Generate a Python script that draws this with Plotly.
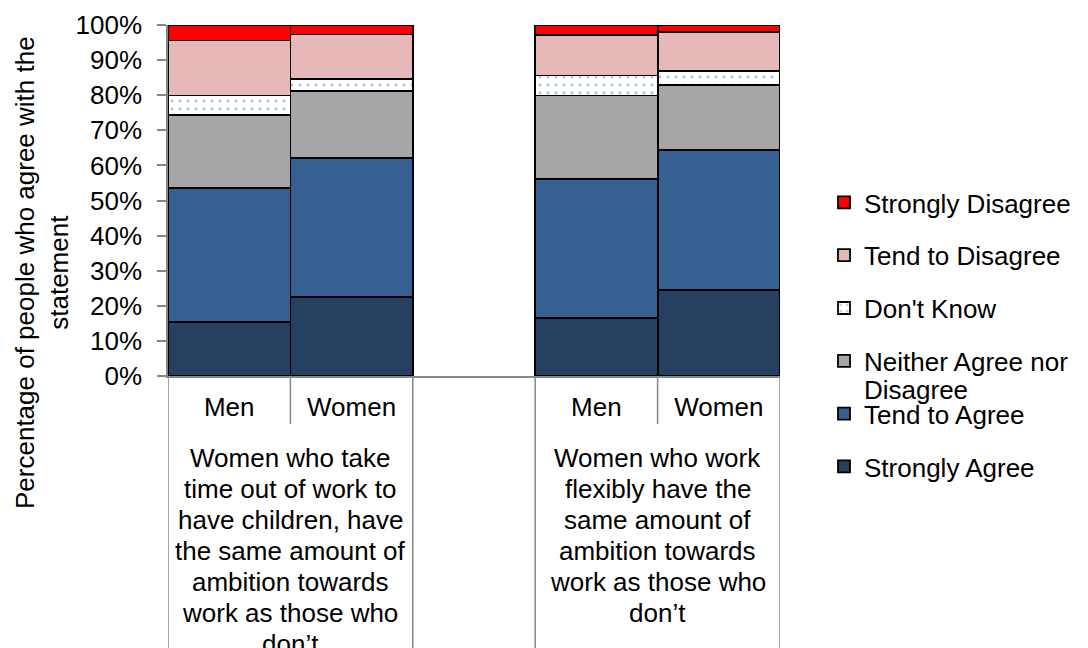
import plotly.graph_objects as go

# ---- data ----
bar_x = [0, 1, 3, 4]
bar_labels = ["Men", "Women", "Men", "Women"]
strongly_agree = [15.4, 22.6, 16.6, 24.5]
tend_to_agree = [38.2, 39.5, 39.6, 39.8]
neither = [20.7, 19.0, 23.7, 18.5]
dont_know = [5.6, 3.6, 5.7, 4.0]
tend_to_disagree = [15.7, 12.6, 11.6, 11.3]
strongly_disagree = [4.4, 2.7, 2.8, 1.9]
y_ticks = [0, 10, 20, 30, 40, 50, 60, 70, 80, 90, 100]

group_centers = [0.5, 3.5]
group1_lines = ["Women who take", "time out of work to", "have children, have",
                "the same amount of", "ambition towards", "work as those who", "don’t"]
group2_lines = ["Women who work", "flexibly have the", "same amount of",
                "ambition towards", "work as those who", "don’t"]

# ---- style ----
FONT = "Liberation Sans, Arial, sans-serif"
FS = 26
AXIS_GRAY = "#878787"
colors = ["#254061", "#376092", "#A6A6A9", "#FFFFFF", "#E6B9B8", "#FF0000"]
values = [strongly_agree, tend_to_agree, neither, dont_know, tend_to_disagree, strongly_disagree]
legend_names = ["Strongly Agree", "Tend to Agree", "Neither Agree nor",
                "Don't Know", "Tend to Disagree", "Strongly Disagree"]

W, H = 1088, 648
L, R, T, B = 168, 308, 25, 272
PH = H - T - B
PW = W - L - R


def py(pix):
    """pixel y -> paper y"""
    return (H - B - pix) / PH


fig = go.Figure()
n = len(legend_names)
for i, (name, vals, col) in enumerate(zip(legend_names, values, colors)):
    marker = dict(color=col, line=dict(color="#000000", width=1.8))
    if name == "Don't Know":
        marker["pattern"] = dict(shape=".", fgcolor="#4F81BD", bgcolor="#FFFFFF",
                                 size=8, solidity=0.1, fillmode="overlay")
    fig.add_trace(go.Bar(x=bar_x, y=vals, name=name, marker=marker,
                         width=1.0, legendgroup=str(i), legendrank=n - i,
                         hoverinfo="skip"))

fig.update_layout(
    barmode="stack",
    width=W, height=H,
    margin=dict(l=L, r=R, t=T, b=B, pad=0, autoexpand=False),
    paper_bgcolor="white", plot_bgcolor="white",
    font=dict(family=FONT, size=FS, color="#000000"),
    showlegend=True,
    legend=dict(traceorder="grouped", tracegroupgap=16,
                xref="container", x=824 / W, xanchor="left",
                yref="container", y=(H - 179) / H, yanchor="top",
                font=dict(family=FONT, size=FS, color="#000000"),
                bgcolor="rgba(0,0,0,0)", itemwidth=30),
    xaxis=dict(range=[-0.5, 4.5], tickmode="array", tickvals=bar_x, ticktext=bar_labels,
               showgrid=False, zeroline=False, showline=True, linecolor=AXIS_GRAY,
               linewidth=1.5, ticks="", ticklabelstandoff=7, automargin=False,
               tickfont=dict(family=FONT, size=FS, color="#000000")),
    yaxis=dict(range=[0, 100], tickmode="array", tickvals=y_ticks,
               ticktext=[f"{v}%" for v in y_ticks],
               showgrid=False, zeroline=False, showline=True, linecolor=AXIS_GRAY,
               linewidth=1.5, ticks="outside", ticklen=9, tickwidth=1.5, tickcolor=AXIS_GRAY,
               ticklabelstandoff=10, automargin=False,
               tickfont=dict(family=FONT, size=FS, color="#000000")),
)

# category dividers below the axis
dividers = [(-0.5, 648), (0.5, 424), (1.5, 648), (2.5, 648), (3.5, 424), (4.5, 648)]
for xv, bottom in dividers:
    fig.add_shape(type="line", xref="x", yref="paper", x0=xv, x1=xv,
                  y0=0, y1=py(bottom), line=dict(color=AXIS_GRAY, width=1.5))

# group labels (one annotation per line)
LINE_GAP = 31
for cx, lines in zip(group_centers, [group1_lines, group2_lines]):
    for j, txt in enumerate(lines):
        fig.add_annotation(x=cx, xref="x", y=py(458 + j * LINE_GAP), yref="paper",
                           text=txt, showarrow=False, xanchor="center", yanchor="middle",
                           font=dict(family=FONT, size=FS, color="#000000"))

# y-axis title
fig.add_annotation(x=(42 - L) / PW, xref="paper", y=py(273), yref="paper",
                   text="Percentage of people who agree with the<br>statement",
                   textangle=-90, showarrow=False, xanchor="center", yanchor="middle",
                   font=dict(family=FONT, size=FS, color="#000000"))

# wrapped second line of the "Neither Agree nor Disagree" legend entry
fig.add_annotation(x=(862 - L) / PW, xref="paper", y=py(390), yref="paper",
                   text="Disagree", showarrow=False, xanchor="left", yanchor="middle",
                   font=dict(family=FONT, size=FS, color="#000000"))

fig.write_html("out.html")
